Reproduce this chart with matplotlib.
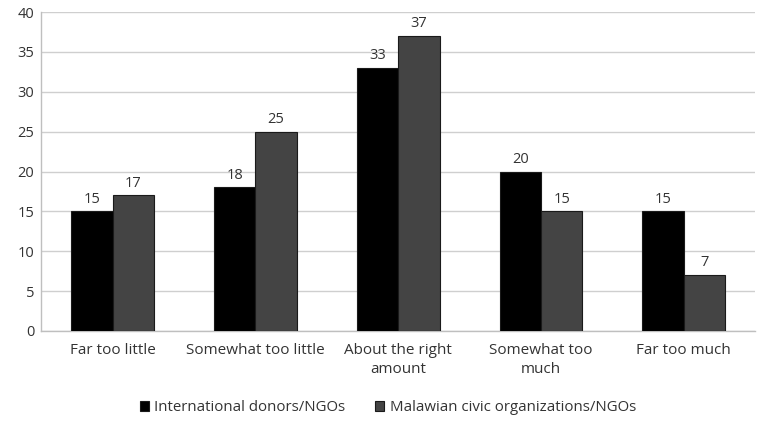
import matplotlib
matplotlib.use("Agg")
import matplotlib.pyplot as plt
import numpy as np

plt.rcParams['font.family'] = ['Open Sans', 'DejaVu Sans']

categories = ["Far too little", "Somewhat too little", "About the right\namount",
              "Somewhat too\nmuch", "Far too much"]
international = [15, 18, 33, 20, 15]
malawian = [17, 25, 37, 15, 7]
series_names = ["International donors/NGOs", "Malawian civic organizations/NGOs"]

fig = plt.figure(figsize=(7.62, 4.23), dpi=100)
ax = fig.add_axes([0.054, 0.2175, 0.937, 0.754])

x = np.arange(len(categories))
w = 0.29
b1 = ax.bar(x - w / 2, international, w, color="#000000", edgecolor="#1a1a1a",
            linewidth=0.8, label=series_names[0], zorder=3)
b2 = ax.bar(x + w / 2, malawian, w, color="#444444", edgecolor="#1a1a1a",
            linewidth=0.8, label=series_names[1], zorder=3)

for bars, vals in ((b1, international), (b2, malawian)):
    for r, v in zip(bars, vals):
        ax.text(r.get_x() + r.get_width() / 2, v + 0.6, f"{v}", ha="center",
                va="bottom", fontsize=10.5, color="#333333")

ax.set_xlim(-0.5, len(categories) - 0.5)
ax.set_ylim(0, 40)
ax.set_yticks(range(0, 41, 5))
ax.yaxis.grid(True, color="#cfcfcf", linewidth=1.0, zorder=0)
ax.set_axisbelow(True)
ax.set_xticks(x)
ax.set_xticklabels(categories, fontsize=11, color="#333333", linespacing=1.3)
ax.tick_params(axis="y", labelsize=10.5, labelcolor="#333333", length=0, pad=5)
ax.tick_params(axis="x", length=0, pad=9)
for s in ("top", "right"):
    ax.spines[s].set_visible(False)
for s in ("left", "bottom"):
    ax.spines[s].set_color("#bfbfbf")
    ax.spines[s].set_linewidth(1.0)

fig.legend(handles=[b1, b2], labels=series_names, loc="center",
           bbox_to_anchor=(0.509, 0.036), ncol=2, frameon=False, fontsize=10.8,
           handlelength=0.6, handleheight=0.6, handletextpad=0.35, columnspacing=2.0,
           labelcolor="#333333")

fig.savefig("out.png", dpi=100)
